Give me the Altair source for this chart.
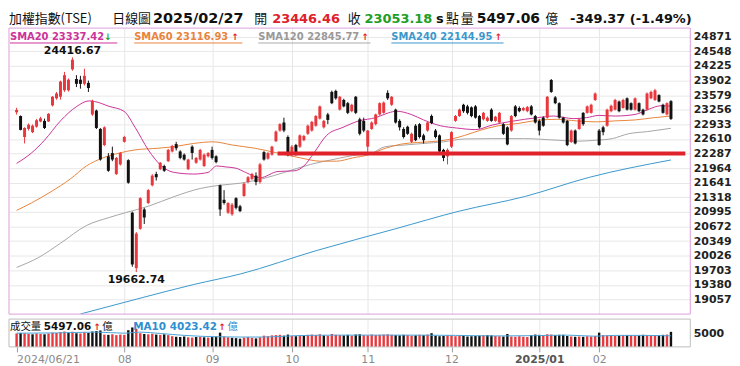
import altair as alt
import pandas as pd

# ---------------- data ----------------
OPEN = [23200, 23117, 22653, 22832, 22760, 22882, 22996, 23010, 22996, 23352,
        23509, 23545, 23687, 23687, 24151, 23937, 23922, 23830, 23851, 23152,
        23238, 22832, 22475, 22225, 22297, 21833, 22047, 22546, 22140, 20978,
        19750, 20621, 21049, 21192, 21584, 21833, 21940, 22011, 22118, 22333,
        22496, 22333, 22261, 21940, 22440, 22083, 22154, 22011, 22226, 22368,
        22226, 21584, 21263, 20978, 20942, 21299, 21120, 21348, 21655, 21726,
        21797, 21655, 22318, 22175, 22261, 22560, 22796, 22974, 22653, 22297,
        22475, 22439, 22582, 22725, 22796, 22903, 23060, 22867, 23152, 23651,
        23673, 23259, 23473, 23402, 23224, 23544, 23045, 23010, 22439, 22831,
        22938, 23152, 23188, 23630, 23366, 23259, 23010, 22831, 22880, 22546,
        22903, 22938, 22689, 22796, 23120, 22796, 22689, 22368, 22225, 22439,
        23010, 23117, 23366, 23331, 23309, 23331, 23117, 23045, 23010, 23259,
        23010, 22974, 22938, 22867, 22796, 23331, 23295, 23245, 23224, 23331,
        23117, 23010, 23081, 23081, 23915, 23530, 23402, 23081, 23010, 22546,
        22796, 22831, 23188, 23188, 23188, 23473, 22796, 22867, 22903, 23224,
        23259, 23438, 23295, 23509, 23402, 23259, 23402, 23259, 23259, 23509,
        23473, 23580, 23366, 23152, 23446.46]
HIGH = [23300, 23130, 22870, 22953, 22930, 23050, 23100, 23060, 23180, 23560,
        23650, 23900, 24094, 23950, 24416.67, 24022, 24008, 24165, 23901, 23480,
        23260, 22850, 22890, 22297, 22440, 22210, 22320, 22680, 22160, 21000,
        20550, 21320, 21085, 21500, 21830, 21883, 22100, 22040, 22390, 22480,
        22546, 22360, 22290, 22170, 22470, 22210, 22390, 22290, 22320, 22440,
        22250, 21600, 21477, 21210, 21192, 21320, 21150, 21640, 21790, 21860,
        21869, 22080, 22340, 22320, 22460, 22800, 22960, 23081, 22689, 22475,
        22500, 22710, 22700, 22930, 23010, 23140, 23350, 23030, 23188, 23680,
        23700, 23560, 23500, 23430, 23390, 23560, 23081, 23081, 22810, 23000,
        23170, 23420, 23440, 23687, 23560, 23280, 23045, 22870, 22903, 22750,
        22938, 22960, 22725, 23000, 23152, 22830, 22710, 22390, 22400, 22780,
        23140, 23280, 23388, 23366, 23330, 23360, 23140, 23210, 23110, 23290,
        23120, 23210, 22960, 22890, 23140, 23360, 23330, 23320, 23340, 23360,
        23140, 23045, 23110, 23560, 23937, 23560, 23420, 23100, 23030, 22820,
        22820, 23070, 23203, 23350, 23390, 23640, 22830, 22900, 23280, 23370,
        23500, 23460, 23500, 23530, 23420, 23530, 23420, 23280, 23640, 23680,
        23720, 23600, 23390, 23420, 23470]
LOW = [23150, 22800, 22511, 22796, 22740, 22860, 22980, 22830, 22990, 23330,
       23480, 23480, 23652, 23660, 24120, 23758, 23723, 23794, 23651, 23120,
       22830, 22130, 22450, 21883, 22118, 21812, 22020, 22530, 21620, 19780,
       19662.74, 20600, 20728, 21170, 21560, 21690, 21920, 21880, 22100, 22310,
       22354, 22160, 22130, 21920, 22154, 22060, 22130, 21990, 22200, 22154,
       22070, 20907, 21156, 20950, 20907, 21049, 20990, 21330, 21630, 21700,
       21584, 21620, 22130, 22150, 22240, 22540, 22770, 22760, 22225, 22225,
       22240, 22410, 22560, 22700, 22770, 22880, 23040, 22840, 22938, 23380,
       23480, 23240, 23310, 23160, 23200, 23160, 22689, 22760, 22261, 22810,
       22910, 23130, 23170, 23473, 23340, 22950, 22796, 22620, 22700, 22520,
       22560, 22620, 22510, 22770, 22938, 22620, 22300, 22118, 22047, 22410,
       22990, 23100, 23188, 23152, 23090, 23060, 22840, 23020, 22990, 22990,
       22990, 22950, 22700, 22470, 22770, 23090, 23200, 23224, 23200, 23130,
       22950, 22689, 22880, 23060, 23630, 23380, 23060, 22950, 22450, 22520,
       22490, 22810, 22903, 23170, 23170, 23450, 22460, 22690, 22880, 23200,
       23240, 23200, 23280, 23240, 23240, 23240, 23200, 23130, 23240, 23490,
       23450, 23420, 23170, 23130, 23030]
CLOSE = [23253, 22810, 22853, 22925, 22903, 23024, 23067, 22853, 23167, 23545,
         23616, 23880, 24022, 23922, 24365, 23830, 23830, 24008, 23737, 23452,
         22853, 22154, 22867, 21905, 22154, 22190, 22297, 22653, 21641, 19831,
         20515, 21299, 20871, 21477, 21798, 21762, 22083, 21905, 22368, 22454,
         22404, 22190, 22154, 22154, 22300, 22190, 22368, 22261, 22297, 22190,
         22097, 21049, 21192, 21192, 21156, 21085, 21013, 21619, 21762, 21833,
         21655, 22047, 22154, 22297, 22439, 22774, 22938, 22796, 22297, 22439,
         22261, 22689, 22675, 22903, 22988, 23117, 23331, 23010, 23031, 23402,
         23509, 23544, 23331, 23188, 23366, 23188, 22724, 22796, 22796, 22974,
         23152, 23402, 23416, 23509, 23544, 22974, 22867, 22653, 22724, 22724,
         22582, 22653, 22582, 22974, 22960, 22653, 22332, 22190, 22368, 22760,
         23117, 23259, 23224, 23188, 23117, 23081, 22867, 23188, 23081, 23010,
         23102, 23188, 22724, 22489, 23117, 23117, 23224, 23295, 23316, 23152,
         22974, 22796, 22903, 23544, 23651, 23402, 23081, 22974, 22475, 22796,
         22510, 23045, 22938, 23331, 23366, 23616, 22475, 22760, 23259, 23345,
         23473, 23224, 23473, 23259, 23259, 23509, 23224, 23152, 23616, 23651,
         23687, 23438, 23188, 23402.55, 23053.18]
VOLUME = [4900, 5100, 5000, 4800, 4600, 4900,
          4700, 4600, 4900, 5200, 5100, 5400, 5600, 5200, 5500, 5000, 4900, 5300, 5100,
          5600, 5800, 6000,
          4500, 4400, 4600, 4300, 4500, 4400,
          6100, 7100, 6600,
          5000, 4700, 4600, 4800, 4500, 4400, 4600, 4300,
          3900, 3700, 3600, 3800, 3500, 3400, 3600, 3700, 3500, 3400, 3600, 3800,
          5200,
          3800, 3500, 3300, 3200, 3000, 3400, 3600, 3300, 3100, 3500,
          4100, 3900, 4200, 4300, 4400, 4100, 4500, 4000, 3900, 4200,
          4300, 4400, 4500, 4300, 4600, 4200, 4100, 4700, 4400, 4300, 4200, 4400,
          4100, 4500, 4600, 4300, 4200, 4500,
          4300, 4400, 4500, 4600, 4400, 4300, 4200, 4400, 4300, 4100, 4200, 4400,
          4300, 4500, 5000,
          4100, 3900, 4000, 4200, 4100, 3900, 4000, 4100, 3800, 3900, 4000, 4100,
          4200, 4300, 4200, 4000, 3900, 3800, 4700,
          3800, 3700, 3900, 3700, 3600, 4300, 4500, 4400, 4300, 4600, 4500, 4300,
          4400, 4400,
          4000, 3800, 3700, 3800, 3700, 3900, 3800, 4000,
          5200, 4300, 4200, 4100, 4000, 4100, 4200, 4300, 4200, 4100, 4200, 4400,
          4300, 4100, 4200, 4300, 4400, 4500, 5497.06]

SMA20_AT = [0, 3.7, 7, 11, 15.1, 18.1, 19.5, 23.2, 26.9, 29.7, 33, 36.3, 39.5, 44.4, 48,
            50.1, 52.5, 55, 57.4, 61, 65.5, 69.6, 72, 74.5, 77.7, 81.8, 85.8, 90, 93.2,
            95.2, 98.9, 102, 106.2, 110.2, 115.1, 119.2, 123.2, 127.3, 130.6, 134.6,
            139.5, 142.8, 146, 150, 155, 158.2, 161.5, 164]
SMA20 = [22069, 22297, 22582, 23010, 23331, 23452, 23440, 23331, 23224, 22867, 22368,
         22012, 21869, 21833, 21869, 22012, 21990, 21962, 21869, 21750, 21890, 21904,
         22011, 22297, 22689, 22867, 23010, 23081, 23188, 23224, 23152, 23031, 22903,
         22853, 22817, 22917, 22988, 23045, 23081, 23117, 23060, 23081, 23131, 23117,
         23152, 23259, 23345, 23337.42]
SMA60_AT = [0, 3.7, 8.6, 13.5, 17.5, 21.6, 25.7, 29.7, 35.4, 39.5, 44.4, 49.3, 54.1,
            59.8, 65.5, 71.2, 76.1, 80.2, 84.2, 88.3, 92.4, 96.4, 100.5, 105.4, 109.4,
            112.3, 116, 120.8, 125.7, 130.6, 135.4, 140.3, 145.2, 150, 155, 159.8, 164]
SMA60 = [21028, 21192, 21441, 21726, 22012, 22190, 22297, 22368, 22404, 22440, 22511,
         22546, 22475, 22403, 22297, 22190, 22118, 22118, 22190, 22261, 22403, 22496,
         22532, 22560, 22617, 22689, 22796, 22903, 22953, 23024, 23045, 23010, 22988,
         23010, 23031, 23081, 23116.93]
SMA120_AT = [0, 5.4, 11, 17.5, 23.2, 27.3, 33, 39.5, 46, 50.9, 56, 61.5, 67.1, 73.7,
             79.3, 85.8, 88.3, 92.4, 97.2, 102.1, 107, 112.3, 119.2, 127.3, 135.4,
             140.3, 145.2, 149.3, 153.3, 158.2, 164]
SMA120 = [19766, 19980, 20301, 20693, 20871, 20978, 21120, 21334, 21513, 21584, 21630,
          21726, 21869, 22047, 22154, 22261, 22275, 22439, 22475, 22511, 22546, 22610,
          22617, 22617, 22582, 22560, 22582, 22617, 22724, 22774, 22845.77]
SMA240_AT = [16, 30, 44.4, 56.2, 75, 95, 111, 127.3, 143.6, 164]
SMA240 = [18735, 19062, 19388, 19623, 20135, 20622, 21013, 21334, 21762, 22144.95]
VMA10_AT = [0, 10, 20, 27, 31, 36, 42, 50, 56, 62, 70, 80, 90, 100, 110, 120, 130, 138,
            145, 150, 157, 164]
VMA10 = [5000, 5100, 5400, 5000, 5400, 4900, 4200, 3700, 3600, 3600, 4100, 4300, 4300,
         4300, 4200, 4000, 4100, 4300, 3900, 4200, 4200, 4023.42]

Y_TICKS = [19057, 19380, 19703, 20026, 20349, 20672, 20995, 21318, 21641, 21964, 22287,
           22610, 22933, 23256, 23579, 23902, 24225, 24548, 24871]
MONTH_AT = [0, 27, 49, 69, 88, 109, 131, 146]
MONTH_LABELS = ["2024/06/21", "08", "09", "10", "11", "12", "2025/01", "02"]
SUPPORT = 22287
SUPPORT_FROM = 65.4

for arr in (HIGH, LOW, CLOSE, VOLUME):
    assert len(arr) == len(OPEN), len(arr)

# ---------------- styling ----------------
RED = "#e8383d"
BLACK = "#111111"
GREEN = "#2e9e34"
C20, C60, C120, C240, CVMA = "#cc3399", "#e8843c", "#a6a6a6", "#3a98cc", "#4aa3d8"
CJK = "Noto Sans CJK TC"
LAT = "DejaVu Sans"
W, H_MAIN, H_VOL = 686, 288, 28
X_DOMAIN = [-0.66, 167.6]
Y_DOMAIN = [18732, 25064]
VOL_DOMAIN = [0, 10150]

xs = alt.Scale(domain=X_DOMAIN, nice=False, zero=False)
ys = alt.Scale(domain=Y_DOMAIN, nice=False, zero=False)
vs = alt.Scale(domain=VOL_DOMAIN, nice=False)

x_axis_main = alt.Axis(values=MONTH_AT[1:], grid=True, gridColor="#e6e6e6", labels=False,
                       ticks=False, domain=False, title=None)
y_axis_main = alt.Axis(orient="right", values=Y_TICKS, format="d", grid=True,
                       gridColor="#e8e8e8", ticks=False, domain=False, labelFont=LAT,
                       labelFontWeight="bold", labelFontSize=11, labelColor="#222",
                       labelPadding=3, title=None)


def X(f):
    return alt.X(f, type="quantitative", scale=xs, axis=x_axis_main, title=None)


def Y(f):
    return alt.Y(f, type="quantitative", scale=ys, axis=y_axis_main, title=None)


ONE = alt.Data(values=[{"a": 0}])


def label(s, x, y, color="#111", size=13, weight="normal", font=CJK, align="left"):
    return alt.Chart(ONE).mark_text(text=s, align=align, baseline="middle", color=color,
                                    fontSize=size, fontWeight=weight, font=font).encode(
        x=alt.value(x), y=alt.value(y))


def underline(x1, x2, y, color):
    return alt.Chart(ONE).mark_rule(color=color, strokeWidth=1).encode(
        x=alt.value(x1), x2=alt.value(x2), y=alt.value(y))


def frame(w, h, color):
    return alt.Chart(ONE).mark_rect(fillOpacity=0, stroke=color, strokeWidth=1).encode(
        x=alt.value(0), x2=alt.value(w), y=alt.value(0), y2=alt.value(h))


# ---------------- main panel ----------------
df = pd.DataFrame({"i": range(len(OPEN)), "o": OPEN, "h": HIGH, "l": LOW, "c": CLOSE})
df["dir"] = ["up" if c >= o else "down" for o, c in zip(OPEN, CLOSE)]
cscale = alt.Scale(domain=["up", "down"], range=[RED, BLACK])

sma_layers = []
for at, vals, col in ((SMA240_AT, SMA240, C240), (SMA120_AT, SMA120, C120),
                      (SMA60_AT, SMA60, C60), (SMA20_AT, SMA20, C20)):
    sma_layers.append(
        alt.Chart(pd.DataFrame({"i": at, "v": vals})).mark_line(
            color=col, strokeWidth=1, interpolate="monotone", clip=True).encode(
            x=X("i"), y=Y("v")))

wicks = alt.Chart(df).mark_rule(strokeWidth=1).encode(
    x=X("i"), y=Y("l"), y2="h", color=alt.Color("dir:N", scale=cscale, legend=None))
bodies = alt.Chart(df).mark_bar(size=3).encode(
    x=X("i"), y=Y("o"), y2="c", color=alt.Color("dir:N", scale=cscale, legend=None))

support = alt.Chart(pd.DataFrame({"x": [SUPPORT_FROM], "x2": [X_DOMAIN[1]], "y": [SUPPORT]})).mark_rule(
    strokeWidth=4, color="#e0222a").encode(x=X("x"), x2="x2", y=Y("y"))

hi_i = HIGH.index(max(HIGH))
lo_i = LOW.index(min(LOW))
hi_lab = alt.Chart(pd.DataFrame({"i": [hi_i], "v": [HIGH[hi_i]], "t": [f"{HIGH[hi_i]:.2f}"]})).mark_text(
    baseline="bottom", dy=-1, font=LAT, fontWeight="bold", fontSize=11, color="#111").encode(
    x=X("i"), y=Y("v"), text="t:N")
lo_lab = alt.Chart(pd.DataFrame({"i": [lo_i], "v": [LOW[lo_i]], "t": [f"{LOW[lo_i]:.2f}"]})).mark_text(
    baseline="top", dy=2, font=LAT, fontWeight="bold", fontSize=11, color="#111").encode(
    x=X("i"), y=Y("v"), text="t:N")

change = CLOSE[-1] - CLOSE[-2]
HY = -9
header = [
    label("加權指數(TSE)", 0, HY, size=13),
    label("日線圖", 104, HY, size=13),
    label("2025/02/27", 145, HY, size=14.5, weight="bold", font=LAT),
    label("開", 247, HY, size=13),
    label(f"{OPEN[-1]:.2f}", 265, HY, color="#e0202a", size=13, weight="bold", font=LAT),
    label("收", 341, HY, size=13),
    label(f"{CLOSE[-1]:.2f}", 358, HY, color="#1f9e25", size=13, weight="bold", font=LAT),
    label("s", 430, HY, size=13, weight="bold", font=LAT),
    label("點", 440, HY, size=13),
    label("量", 455, HY, size=13),
    label(f"{VOLUME[-1]:.2f}", 471, HY, size=14, weight="bold", font=LAT),
    label("億", 540, HY, size=13),
    label(f"{change:.2f} ({change / CLOSE[-2] * 100:.2f}%)", 565, HY, size=13,
          weight="bold", font=LAT),
]

LY = 9
legend = [
    label(f"SMA20 {SMA20[-1]:.2f}", 1, LY, color=C20, size=10, weight="bold", font=LAT),
    label("↓", 96, LY, color="#1f9e25", size=9, weight="bold", font=LAT),
    underline(1, 109, LY + 6, C20),
    label(f"SMA60 {SMA60[-1]:.2f}", 126, LY, color=C60, size=10, weight="bold", font=LAT),
    label("↑", 224, LY, color="#e0202a", size=9, weight="bold", font=LAT),
    underline(126, 235, LY + 6, C60),
    label(f"SMA120 {SMA120[-1]:.2f}", 251, LY, color="#999", size=10, weight="bold", font=LAT),
    label("↑", 355, LY, color="#e0202a", size=9, weight="bold", font=LAT),
    underline(251, 364, LY + 6, "#aaa"),
    label(f"SMA240 {SMA240[-1]:.2f}", 385, LY, color=C240, size=10, weight="bold", font=LAT),
    label("↑", 489, LY, color="#e0202a", size=9, weight="bold", font=LAT),
    underline(385, 498, LY + 6, C240),
]

main = alt.layer(*sma_layers, wicks, bodies, support, hi_lab, lo_lab, *header, *legend,
                 frame(W, H_MAIN, "#dda0dd")).properties(width=W, height=H_MAIN)

# ---------------- volume panel ----------------
vdf = pd.DataFrame({"i": range(len(VOLUME)), "v": VOLUME})
vdf["dir"] = ["up" if (CLOSE[k] >= (CLOSE[k - 1] if k else OPEN[0])) else "down"
              for k in range(len(CLOSE))]
vscale = alt.Scale(domain=["up", "down"], range=[RED, GREEN])

label_expr = " : ".join(f"datum.value == {a} ? '{t}'" for a, t in zip(MONTH_AT, MONTH_LABELS)) + " : ''"
vx_axis = alt.Axis(values=MONTH_AT, labelExpr=label_expr, grid=True, gridColor="#e8e8e8",
                   ticks=True, tickSize=5, tickColor="#999", domain=False, labelFlush=False,
                   labelOverlap=False, labelFont=LAT, labelFontSize=11, labelPadding=2,
                   labelAlign={"condition": {"test": "datum.value == 0", "value": "left"},
                               "value": "center"},
                   labelColor={"condition": {"test": "datum.value == 131", "value": "#555"},
                               "value": "#8a8a8a"},
                   labelFontWeight={"condition": {"test": "datum.value == 131", "value": "bold"},
                                    "value": "normal"},
                   title=None)
vy_axis = alt.Axis(orient="right", values=[5000], format="d", grid=False, ticks=False,
                   domain=False, labelFont=LAT, labelFontWeight="bold", labelFontSize=11,
                   labelColor="#222", labelPadding=3, title=None)


def VX(f):
    return alt.X(f, type="quantitative", scale=xs, axis=vx_axis, title=None)


def VY(f):
    return alt.Y(f, type="quantitative", scale=vs, axis=vy_axis, title=None)


vbars = alt.Chart(vdf).mark_bar(size=2.4).encode(
    x=VX("i"), y=VY("v"), color=alt.Color("dir:N", scale=vscale, legend=None))
vma = alt.Chart(pd.DataFrame({"i": VMA10_AT, "v": VMA10})).mark_line(
    color=CVMA, strokeWidth=1, interpolate="monotone").encode(x=VX("i"), y=VY("v"))

VYL = 8
vtexts = [
    label("成交量", 1, VYL, size=10.5),
    label(f"{VOLUME[-1]:.2f}", 35, VYL, size=10.5, weight="bold", font=LAT),
    label("↑", 85, VYL, color="#e0202a", size=9, weight="bold", font=LAT),
    label("億", 94, VYL, size=10.5),
    label(f"MA10 {VMA10[-1]:.2f}", 125, VYL, color="#2f8fd0", size=10.5, weight="bold", font=LAT),
    label("↑", 211, VYL, color="#e0202a", size=9, weight="bold", font=LAT),
    label("億", 220, VYL, color="#2f8fd0", size=10.5),
]

vol = alt.layer(vbars, vma, *vtexts, frame(W, H_VOL, "#bdbdbd")).properties(
    width=W, height=H_VOL)

chart = alt.vconcat(main, vol, spacing=3).properties(
    padding={"left": 0, "top": 2, "right": 0, "bottom": 0},
    background="white",
).configure_view(stroke=None)

chart.save("out.html", embed_options={"renderer": "svg", "actions": False})
